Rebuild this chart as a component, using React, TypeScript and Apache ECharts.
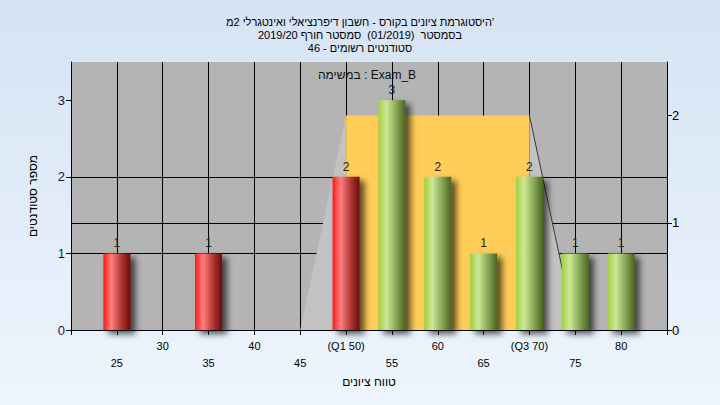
import React, { useEffect, useRef } from "react";
import * as echarts from "echarts";

const FONT = "'Liberation Sans', Arial, 'DejaVu Sans', sans-serif";

const titleLines = [
  "היסטוגרמת ציונים בקורס - חשבון דיפרנציאלי ואינטגרלי 2מ'",
  "בסמסטר  (01/2019)  סמסטר חורף 2019/20",
  "סטודנטים רשומים - 46",
];
const examLabel = "במשימה : Exam_B";
const xAxisName = "טווח ציונים";
const yAxisName = "מספר סטודנטים";

// histogram bins (grade) and number of students
const binGrades = [25, 35, 50, 55, 60, 65, 70, 75, 80];
const binCounts = [1, 1, 2, 3, 2, 1, 2, 1, 1];
const binIsLow = [true, true, true, false, false, false, false, false, false];

// x tick labels
const tickValues = [25, 30, 35, 40, 45, 50, 55, 60, 65, 70, 75, 80];
const tickLabels = ["25", "30", "35", "40", "45", "(Q1 50)", "55", "60", "65", "(Q3 70)", "75", "80"];

// box shape (right axis): min, Q1, Q3, max
const boxX = [45, 50, 70, 75];
const boxY = [0, 2, 2, 0];

const redGrad = () =>
  new echarts.graphic.LinearGradient(0, 0, 1, 0, [
    { offset: 0, color: "#ff1818" },
    { offset: 0.3, color: "#ff8080" },
    { offset: 0.65, color: "#b83838" },
    { offset: 1, color: "#6a0c0c" },
  ]);
const greenGrad = () =>
  new echarts.graphic.LinearGradient(0, 0, 1, 0, [
    { offset: 0, color: "#a2d040" },
    { offset: 0.3, color: "#cde896" },
    { offset: 0.65, color: "#8aa858" },
    { offset: 1, color: "#4a6420" },
  ]);

export default function App() {
  const ref = useRef<HTMLDivElement>(null);
  useEffect(() => {
    const chart = echarts.init(ref.current!, null, { renderer: "svg" });
    const barData = binGrades.map((g, i) => ({
      value: [g, binCounts[i]],
      itemStyle: { color: binIsLow[i] ? redGrad() : greenGrad() },
    }));
    const option: any = {
      animation: false,
      textStyle: { fontFamily: FONT },
      title: {
        text: titleLines.join("\n"),
        left: "center",
        top: 10,
        textStyle: { fontSize: 11, lineHeight: 13, fontWeight: "normal", color: "#000", fontFamily: FONT },
      },
      graphic: [
        {
          type: "text",
          x: 367,
          y: 75,
          z: 100,
          style: {
            text: examLabel,
            fontSize: 12,
            fontFamily: FONT,
            fill: "#111",
            textAlign: "center",
            textVerticalAlign: "middle",
          },
        },
      ],
      grid: {
        left: 71,
        right: 53,
        top: 62,
        bottom: 75,
        show: true,
        backgroundColor: "#b4b4b4",
        borderWidth: 0,
      },
      xAxis: {
        type: "value",
        min: 20,
        max: 85,
        interval: 5,
        name: xAxisName,
        nameLocation: "middle",
        nameGap: 45,
        nameTextStyle: { fontSize: 12, color: "#000", fontFamily: FONT },
        axisLine: { show: true, lineStyle: { color: "#000", width: 1 } },
        axisTick: { show: true, length: 5, lineStyle: { color: "#000" } },
        splitLine: { show: true, showMinLine: false, showMaxLine: false, lineStyle: { color: "#000", width: 1 } },
        axisLabel: {
          margin: 8,
          fontSize: 11,
          lineHeight: 16.5,
          color: "#000",
          fontFamily: FONT,
          showMinLabel: true,
          showMaxLabel: true,
          formatter: (v: number) => {
            const i = tickValues.indexOf(v);
            if (i < 0) return "";
            return i % 2 === 0 ? "\n" + tickLabels[i] : tickLabels[i];
          },
        },
      },
      yAxis: [
        {
          type: "value",
          min: 0,
          max: 3.5,
          interval: 1,
          position: "left",
          name: yAxisName,
          nameLocation: "middle",
          nameGap: 32,
          nameTextStyle: { fontSize: 12, color: "#000", fontFamily: FONT },
          axisLine: { show: true, lineStyle: { color: "#000", width: 1 } },
          axisTick: { show: true, length: 5, lineStyle: { color: "#000" }, customValues: [0, 1, 2, 3] },
          splitLine: { show: true, showMaxLine: false, lineStyle: { color: "#000", width: 1 } },
          axisLabel: {
            margin: 6,
            fontSize: 13,
            color: "#1a1a40",
            fontFamily: FONT,
            formatter: (v: number) => (Number.isInteger(v) ? String(v) : ""),
          },
        },
        {
          type: "value",
          min: 0,
          max: 2.5,
          interval: 1,
          position: "right",
          axisLine: { show: true, lineStyle: { color: "#000", width: 1 } },
          axisTick: { show: true, length: 5, lineStyle: { color: "#000" }, customValues: [0, 1, 2] },
          splitLine: { show: true, showMaxLine: false, lineStyle: { color: "#000", width: 1 } },
          axisLabel: {
            margin: 5,
            fontSize: 13,
            color: "#000",
            fontFamily: FONT,
            formatter: (v: number) => (Number.isInteger(v) ? String(v) : ""),
          },
        },
      ],
      series: [
        {
          type: "line",
          yAxisIndex: 1,
          z: 2,
          symbol: "none",
          silent: true,
          data: [
            [boxX[0], boxY[0]],
            [boxX[1], boxY[1]],
          ],
          lineStyle: { width: 0 },
          areaStyle: { color: "#c2c2c2", opacity: 1 },
        },
        {
          type: "line",
          yAxisIndex: 1,
          z: 2,
          symbol: "none",
          silent: true,
          data: [
            [boxX[1], boxY[1]],
            [boxX[2], boxY[2]],
          ],
          lineStyle: { width: 0 },
          areaStyle: { color: "#ffcd58", opacity: 1 },
        },
        {
          type: "line",
          yAxisIndex: 1,
          z: 2,
          symbol: "none",
          silent: true,
          data: [
            [boxX[2], boxY[2]],
            [boxX[3], boxY[3]],
          ],
          lineStyle: { width: 1, color: "#3a3a3a" },
          areaStyle: { color: "#c2c2c2", opacity: 1 },
        },
        {
          type: "bar",
          yAxisIndex: 0,
          z: 3,
          barWidth: 27,
          data: barData,
          itemStyle: {
            shadowColor: "rgba(0,0,0,0.65)",
            shadowBlur: 6,
            shadowOffsetX: 5,
            shadowOffsetY: 4,
          },
          label: {
            show: true,
            position: "top",
            distance: 4,
            fontSize: 12,
            color: "#222",
            fontFamily: FONT,
            formatter: (p: any) => String(p.value[1]),
          },
        },
      ],
    };
    chart.setOption(option);
    return () => chart.dispose();
  }, []);
  return (
    <div
      style={{
        position: "fixed",
        left: 0,
        top: 0,
        width: 720,
        height: 405,
        background: "linear-gradient(180deg, #d5e3f4 0%, #eef5fd 100%)",
      }}
    >
      <div ref={ref} style={{ width: 720, height: 405 }} />
    </div>
  );
}
